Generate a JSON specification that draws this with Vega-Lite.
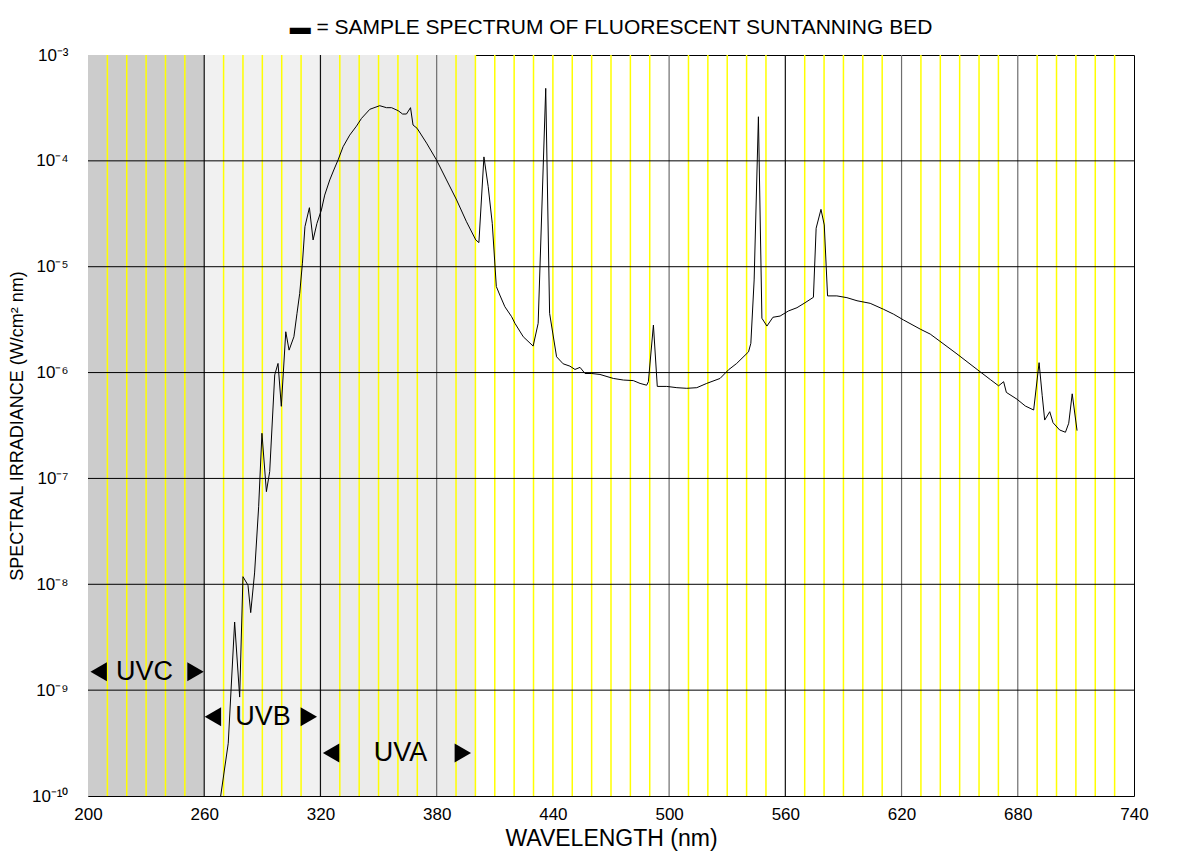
{
  "$schema": "https://vega.github.io/schema/vega-lite/v6.json",
  "width": 1046,
  "height": 741,
  "autosize": {"type": "none"},
  "padding": {"left": 88, "top": 55, "right": 48, "bottom": 71},
  "background": "#ffffff",
  "title": {
    "text": "▬  =  SAMPLE SPECTRUM OF FLUORESCENT SUNTANNING BED",
    "font": "Liberation Sans",
    "fontSize": 21,
    "fontWeight": "normal",
    "color": "#000000",
    "anchor": "middle",
    "offset": 8
  },
  "datasets": {
    "bands": [
      {"band": "UVC", "start": 200, "end": 260},
      {"band": "UVB", "start": 260, "end": 320},
      {"band": "UVA", "start": 320, "end": 400}
    ],
    "minor": [
      {"nm": 210}, {"nm": 220}, {"nm": 230}, {"nm": 240}, {"nm": 250},
      {"nm": 270}, {"nm": 280}, {"nm": 290}, {"nm": 300}, {"nm": 310},
      {"nm": 330}, {"nm": 340}, {"nm": 350}, {"nm": 360}, {"nm": 370},
      {"nm": 390}, {"nm": 400}, {"nm": 410}, {"nm": 420}, {"nm": 430},
      {"nm": 440}, {"nm": 450}, {"nm": 460}, {"nm": 470}, {"nm": 480},
      {"nm": 490}, {"nm": 510}, {"nm": 520}, {"nm": 530}, {"nm": 540},
      {"nm": 550}, {"nm": 570}, {"nm": 580}, {"nm": 590}, {"nm": 600},
      {"nm": 610}, {"nm": 630}, {"nm": 640}, {"nm": 650}, {"nm": 660},
      {"nm": 670}, {"nm": 690}, {"nm": 700}, {"nm": 710}, {"nm": 720},
      {"nm": 730}
    ],
    "major": [
      {"nm": 260, "tone": "dark"}, {"nm": 320, "tone": "dark"},
      {"nm": 380, "tone": "gray"}, {"nm": 500, "tone": "gray"},
      {"nm": 560, "tone": "dark"}, {"nm": 620, "tone": "gray"},
      {"nm": 680, "tone": "gray"}
    ],
    "decades": [
      {"irr": 1e-9}, {"irr": 1e-8}, {"irr": 1e-7},
      {"irr": 1e-6}, {"irr": 1e-5}, {"irr": 1e-4}
    ],
    "labels": [
      {"band": "UVC", "nm": 229.2, "irr": 1.49e-9},
      {"band": "UVB", "nm": 290.3, "irr": 5.6e-10},
      {"band": "UVA", "nm": 361.3, "irr": 2.55e-10}
    ],
    "arrows": [
      {"nm": 205.5, "irr": 1.49e-9, "dir": "left"},
      {"nm": 255.5, "irr": 1.49e-9, "dir": "right"},
      {"nm": 264.5, "irr": 5.6e-10, "dir": "left"},
      {"nm": 314.0, "irr": 5.6e-10, "dir": "right"},
      {"nm": 325.5, "irr": 2.55e-10, "dir": "left"},
      {"nm": 393.5, "irr": 2.55e-10, "dir": "right"}
    ],
    "spectrum": [
      {"nm": 268.5, "irr": 1.0e-10},
      {"nm": 272.4, "irr": 3.15e-10},
      {"nm": 275.7, "irr": 4.4e-9},
      {"nm": 278.3, "irr": 8.6e-10},
      {"nm": 280.0, "irr": 1.18e-8},
      {"nm": 282.6, "irr": 9.8e-9},
      {"nm": 284.0, "irr": 5.4e-9},
      {"nm": 286.0, "irr": 1.28e-8},
      {"nm": 288.1, "irr": 5.4e-8},
      {"nm": 289.8, "irr": 2.67e-7},
      {"nm": 292.1, "irr": 7.5e-8},
      {"nm": 293.8, "irr": 1.16e-7},
      {"nm": 296.4, "irr": 9.5e-7},
      {"nm": 298.1, "irr": 1.22e-6},
      {"nm": 299.8, "irr": 4.8e-7},
      {"nm": 302.1, "irr": 2.43e-6},
      {"nm": 303.8, "irr": 1.63e-6},
      {"nm": 306.3, "irr": 2.18e-6},
      {"nm": 307.9, "irr": 3.63e-6},
      {"nm": 309.3, "irr": 5.6e-6},
      {"nm": 310.7, "irr": 1.08e-5},
      {"nm": 312.0, "irr": 2.39e-5},
      {"nm": 314.3, "irr": 3.61e-5},
      {"nm": 316.2, "irr": 1.79e-5},
      {"nm": 318.2, "irr": 2.57e-5},
      {"nm": 320.5, "irr": 3.44e-5},
      {"nm": 322.2, "irr": 4.75e-5},
      {"nm": 324.8, "irr": 6.6e-5},
      {"nm": 326.9, "irr": 8.2e-5},
      {"nm": 329.1, "irr": 1.02e-4},
      {"nm": 331.7, "irr": 1.36e-4},
      {"nm": 335.1, "irr": 1.75e-4},
      {"nm": 338.6, "irr": 2.13e-4},
      {"nm": 341.2, "irr": 2.52e-4},
      {"nm": 345.5, "irr": 3.07e-4},
      {"nm": 350.6, "irr": 3.32e-4},
      {"nm": 354.1, "irr": 3.18e-4},
      {"nm": 356.7, "irr": 3.18e-4},
      {"nm": 360.1, "irr": 2.98e-4},
      {"nm": 362.4, "irr": 2.77e-4},
      {"nm": 364.4, "irr": 2.77e-4},
      {"nm": 366.5, "irr": 3.18e-4},
      {"nm": 367.8, "irr": 2.18e-4},
      {"nm": 369.9, "irr": 2.03e-4},
      {"nm": 374.8, "irr": 1.47e-4},
      {"nm": 379.9, "irr": 1.02e-4},
      {"nm": 385.1, "irr": 6.6e-5},
      {"nm": 390.3, "irr": 4.27e-5},
      {"nm": 395.4, "irr": 2.66e-5},
      {"nm": 400.2, "irr": 1.79e-5},
      {"nm": 401.8, "irr": 1.69e-5},
      {"nm": 404.4, "irr": 1.09e-4},
      {"nm": 406.6, "irr": 5.7e-5},
      {"nm": 408.7, "irr": 2.57e-5},
      {"nm": 410.8, "irr": 6.5e-6},
      {"nm": 412.6, "irr": 5.4e-6},
      {"nm": 415.2, "irr": 4.19e-6},
      {"nm": 418.7, "irr": 3.37e-6},
      {"nm": 420.4, "irr": 2.92e-6},
      {"nm": 424.7, "irr": 2.18e-6},
      {"nm": 429.8, "irr": 1.78e-6},
      {"nm": 432.4, "irr": 2.92e-6},
      {"nm": 436.3, "irr": 4.84e-4},
      {"nm": 438.3, "irr": 3.63e-6},
      {"nm": 441.9, "irr": 1.41e-6},
      {"nm": 445.3, "irr": 1.21e-6},
      {"nm": 448.8, "irr": 1.15e-6},
      {"nm": 451.4, "irr": 1.07e-6},
      {"nm": 454.0, "irr": 1.12e-6},
      {"nm": 456.6, "irr": 9.8e-7},
      {"nm": 460.0, "irr": 9.8e-7},
      {"nm": 464.3, "irr": 9.6e-7},
      {"nm": 471.2, "irr": 8.8e-7},
      {"nm": 476.4, "irr": 8.5e-7},
      {"nm": 481.5, "irr": 8.4e-7},
      {"nm": 485.0, "irr": 7.9e-7},
      {"nm": 488.4, "irr": 7.6e-7},
      {"nm": 489.3, "irr": 8.2e-7},
      {"nm": 491.9, "irr": 2.81e-6},
      {"nm": 493.9, "irr": 7.4e-7},
      {"nm": 498.8, "irr": 7.4e-7},
      {"nm": 504.0, "irr": 7.2e-7},
      {"nm": 509.1, "irr": 7.1e-7},
      {"nm": 514.3, "irr": 7.2e-7},
      {"nm": 519.4, "irr": 7.9e-7},
      {"nm": 526.3, "irr": 8.8e-7},
      {"nm": 530.6, "irr": 1.06e-6},
      {"nm": 534.9, "irr": 1.22e-6},
      {"nm": 541.0, "irr": 1.57e-6},
      {"nm": 542.2, "irr": 1.89e-6},
      {"nm": 543.9, "irr": 7.5e-6},
      {"nm": 546.1, "irr": 2.61e-4},
      {"nm": 547.9, "irr": 3.26e-6},
      {"nm": 550.5, "irr": 2.75e-6},
      {"nm": 553.6, "irr": 3.33e-6},
      {"nm": 557.3, "irr": 3.42e-6},
      {"nm": 561.6, "irr": 3.82e-6},
      {"nm": 566.0, "irr": 4.1e-6},
      {"nm": 570.2, "irr": 4.57e-6},
      {"nm": 574.5, "irr": 5.14e-6},
      {"nm": 575.9, "irr": 2.31e-5},
      {"nm": 578.4, "irr": 3.48e-5},
      {"nm": 580.1, "irr": 2.48e-5},
      {"nm": 581.8, "irr": 5.3e-6},
      {"nm": 586.6, "irr": 5.3e-6},
      {"nm": 591.8, "irr": 5.1e-6},
      {"nm": 597.0, "irr": 4.77e-6},
      {"nm": 603.8, "irr": 4.51e-6},
      {"nm": 610.7, "irr": 3.96e-6},
      {"nm": 615.9, "irr": 3.56e-6},
      {"nm": 621.0, "irr": 3.14e-6},
      {"nm": 629.7, "irr": 2.57e-6},
      {"nm": 634.8, "irr": 2.31e-6},
      {"nm": 640.9, "irr": 1.91e-6},
      {"nm": 648.6, "irr": 1.5e-6},
      {"nm": 659.0, "irr": 1.07e-6},
      {"nm": 665.8, "irr": 8.6e-7},
      {"nm": 670.1, "irr": 7.5e-7},
      {"nm": 672.7, "irr": 8.2e-7},
      {"nm": 674.1, "irr": 6.5e-7},
      {"nm": 679.6, "irr": 5.6e-7},
      {"nm": 683.9, "irr": 4.83e-7},
      {"nm": 688.2, "irr": 4.43e-7},
      {"nm": 691.0, "irr": 1.24e-6},
      {"nm": 692.6, "irr": 6.1e-7},
      {"nm": 693.9, "irr": 3.56e-7},
      {"nm": 696.5, "irr": 4.27e-7},
      {"nm": 698.2, "irr": 3.36e-7},
      {"nm": 701.6, "irr": 2.87e-7},
      {"nm": 704.6, "irr": 2.73e-7},
      {"nm": 706.3, "irr": 3.32e-7},
      {"nm": 708.1, "irr": 6.3e-7},
      {"nm": 710.6, "irr": 2.83e-7}
    ]
  },
  "layer": [
    {
      "data": {"name": "bands"},
      "mark": {"type": "rect", "stroke": null},
      "encoding": {
        "x": {"field": "start", "type": "quantitative", "scale": {"domain": [200, 740], "nice": false, "zero": false},
          "axis": {"values": [200, 260, 320, 380, 440, 500, 560, 620, 680, 740], "title": "WAVELENGTH (nm)"}},
        "x2": {"field": "end"},
        "color": {"field": "band", "type": "nominal", "legend": null,
          "scale": {"domain": ["UVC", "UVB", "UVA"], "range": ["#cccccc", "#f1f1f1", "#ebebeb"]}}
      }
    },
    {
      "data": {"name": "minor"},
      "mark": {"type": "rule", "color": "#ffff00", "strokeWidth": 1.5},
      "encoding": {
        "x": {"field": "nm", "type": "quantitative", "scale": {"domain": [200, 740], "nice": false, "zero": false},
          "axis": {"values": [200, 260, 320, 380, 440, 500, 560, 620, 680, 740], "title": "WAVELENGTH (nm)"}}
      }
    },
    {
      "data": {"name": "major"},
      "mark": {"type": "rule", "strokeWidth": 1.2},
      "encoding": {
        "x": {"field": "nm", "type": "quantitative", "scale": {"domain": [200, 740], "nice": false, "zero": false},
          "axis": {"values": [200, 260, 320, 380, 440, 500, 560, 620, 680, 740], "title": "WAVELENGTH (nm)"}},
        "stroke": {"field": "tone", "type": "nominal", "legend": null,
          "scale": {"domain": ["dark", "gray"], "range": ["#111111", "#6e6e6e"]}}
      }
    },
    {
      "data": {"name": "decades"},
      "mark": {"type": "rule", "color": "#000000", "strokeWidth": 1},
      "encoding": {
        "y": {"field": "irr", "type": "quantitative", "scale": {"type": "log", "domain": [1e-10, 1e-3], "nice": false},
          "axis": {"values": [1e-10, 1e-9, 1e-8, 1e-7, 1e-6, 1e-5, 1e-4, 1e-3], "title": "SPECTRAL IRRADIANCE (W/cm² nm)"}}
      }
    },
    {
      "data": {"name": "spectrum"},
      "mark": {"type": "line", "color": "#000000", "strokeWidth": 1, "clip": true},
      "encoding": {
        "x": {"field": "nm", "type": "quantitative", "scale": {"domain": [200, 740], "nice": false, "zero": false},
          "axis": {"values": [200, 260, 320, 380, 440, 500, 560, 620, 680, 740], "title": "WAVELENGTH (nm)"}},
        "y": {"field": "irr", "type": "quantitative", "scale": {"type": "log", "domain": [1e-10, 1e-3], "nice": false},
          "axis": {"values": [1e-10, 1e-9, 1e-8, 1e-7, 1e-6, 1e-5, 1e-4, 1e-3], "title": "SPECTRAL IRRADIANCE (W/cm² nm)"}}
      }
    },
    {
      "data": {"name": "labels"},
      "mark": {"type": "text", "font": "Liberation Sans", "fontSize": 27, "color": "#000000", "baseline": "middle", "align": "center"},
      "encoding": {
        "x": {"field": "nm", "type": "quantitative", "scale": {"domain": [200, 740], "nice": false, "zero": false},
          "axis": {"values": [200, 260, 320, 380, 440, 500, 560, 620, 680, 740], "title": "WAVELENGTH (nm)"}},
        "y": {"field": "irr", "type": "quantitative", "scale": {"type": "log", "domain": [1e-10, 1e-3], "nice": false},
          "axis": {"values": [1e-10, 1e-9, 1e-8, 1e-7, 1e-6, 1e-5, 1e-4, 1e-3], "title": "SPECTRAL IRRADIANCE (W/cm² nm)"}},
        "text": {"field": "band"}
      }
    },
    {
      "data": {"name": "arrows"},
      "mark": {"type": "point", "filled": true, "color": "#000000", "size": 360, "opacity": 1},
      "encoding": {
        "x": {"field": "nm", "type": "quantitative", "scale": {"domain": [200, 740], "nice": false, "zero": false},
          "axis": {"values": [200, 260, 320, 380, 440, 500, 560, 620, 680, 740], "title": "WAVELENGTH (nm)"}},
        "y": {"field": "irr", "type": "quantitative", "scale": {"type": "log", "domain": [1e-10, 1e-3], "nice": false},
          "axis": {"values": [1e-10, 1e-9, 1e-8, 1e-7, 1e-6, 1e-5, 1e-4, 1e-3], "title": "SPECTRAL IRRADIANCE (W/cm² nm)"}},
        "shape": {"field": "dir", "type": "nominal", "legend": null,
          "scale": {"domain": ["left", "right"], "range": ["triangle-left", "triangle-right"]}}
      }
    }
  ],
  "config": {
    "view": {"stroke": "#000000", "strokeWidth": 1},
    "axisX": {
      "grid": false, "ticks": false, "domain": false,
      "labelFont": "Liberation Sans", "labelFontSize": 17, "labelColor": "#000000",
      "labelPadding": 10, "labelFlush": false, "labelOverlap": false,
      "titleFont": "Liberation Sans", "titleFontSize": 23, "titleFontWeight": "normal",
      "titleColor": "#000000", "titlePadding": 5
    },
    "axisY": {
      "grid": false, "ticks": false, "domain": false,
      "labelExpr": "'10⁻' + (round(-log(datum.value)/LN10) == 10 ? '¹⁰' : ['', '', '', '³', '⁴', '⁵', '⁶', '⁷', '⁸', '⁹'][round(-log(datum.value)/LN10)])",
      "labelFont": "Liberation Sans", "labelFontSize": 17, "labelColor": "#000000",
      "labelPadding": 20, "labelOverlap": false, "labelFlush": false,
      "titleFont": "Liberation Sans", "titleFontSize": 18, "titleFontWeight": "normal",
      "titleColor": "#000000", "titlePadding": 5
    }
  }
}
